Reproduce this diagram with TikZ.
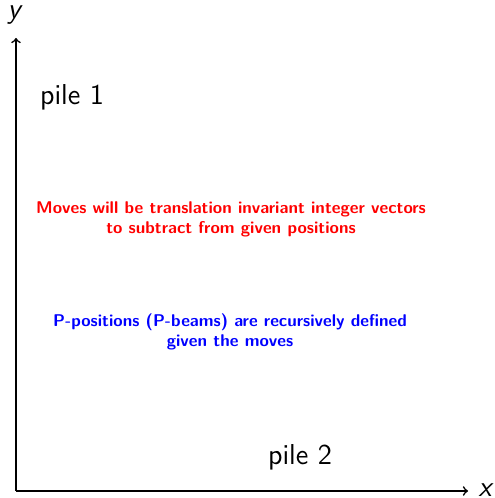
\documentclass[tikz,border=0pt]{standalone}
\usepackage{tikz}
\begin{document}
\begin{tikzpicture}[x=0.5pt,y=0.5pt,font=\sffamily,
    pile/.style={font=\sffamily\Large},
    note/.style={font=\sffamily\bfseries\fontsize{8.5}{10}\selectfont,align=center}]
        \useasboundingbox (-16,-7) rectangle (478,491);
        % axes
        \coordinate (o) at (0,0);
        \coordinate (ytop) at (0,453);
        \coordinate (xend) at (452,0);
        \draw[thick,->](o) -- (ytop);\draw[thick,->](o) -- (xend);
        \node (ylab) at (-2,476) {\Large\slshape y};
        \node (xlab) at (469,1) {\Large\slshape x};
        % piles
        \node[pile] (pileone) at (56,394) {pile 1};
        \node[pile] (piletwo) at (284,34) {pile 2};
        % notes
        \node[note,red] (moves) at (215,272) {Moves will be translation invariant integer vectors\\to subtract from given positions};
        \node[note,blue] (ppos) at (214,159) {P-positions (P-beams) are recursively defined\\given the moves};
    \end{tikzpicture}
\end{document}
